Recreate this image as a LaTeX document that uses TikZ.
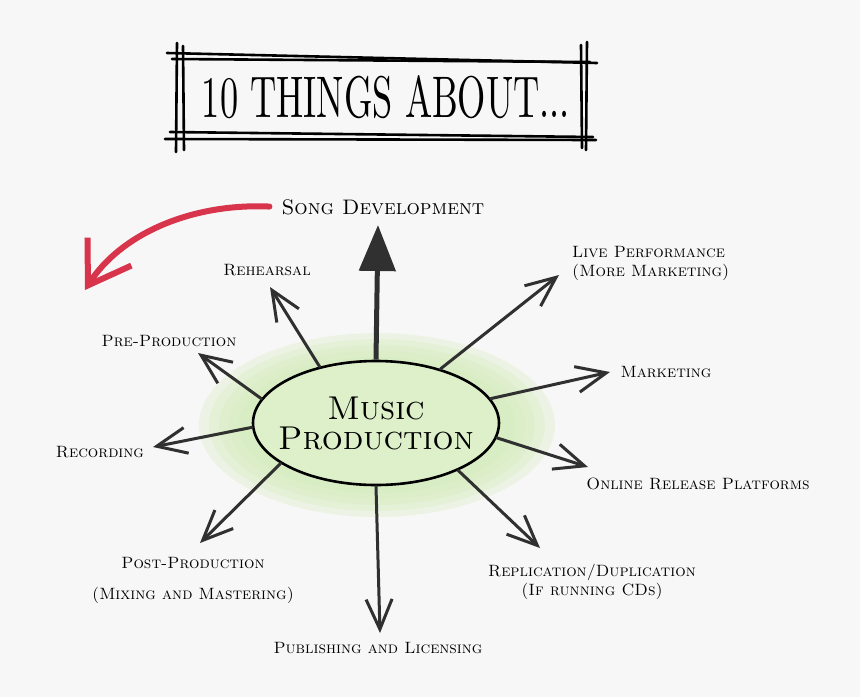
\documentclass[tikz,border=0pt]{standalone}
\usepackage{graphicx}
\usetikzlibrary{arrows.meta,shapes.geometric}
\definecolor{paper}{HTML}{F7F7F7}
\definecolor{ink}{HTML}{2F302F}
\definecolor{pen}{HTML}{D8344C}
\definecolor{leaf}{HTML}{DDF0C9}
\definecolor{haze}{HTML}{D4EDBB}
\begin{document}
\begin{tikzpicture}[x=1pt,y=-1pt,
  lbl/.style={font=\fontsize{16.4}{19}\selectfont\scshape, text=black, inner sep=2pt},
  arr/.style={draw=ink, line width=3pt, line cap=round, -{Straight Barb[length=30pt,width=26pt]}},
  frame/.style={line width=2.6pt, line cap=round}]
\fill[paper] (0,0) rectangle (860,697);
\useasboundingbox (0,0) rectangle (860,697);
\draw[frame] (167,53) -- (597,63);
\draw[frame] (172,59) -- (590,62);
\draw[frame] (170,132) -- (593,137);
\draw[frame] (165,139) -- (596,140);
\draw[frame] (177,43) -- (176,152);
\draw[frame] (183,46) -- (184,150);
\draw[frame] (581,45) -- (582,148);
\draw[frame] (587,42) -- (586,150);
\node (title) at (386,97) {\resizebox{368pt}{42pt}{10 THINGS ABOUT...}};
\foreach \a/\b in {178/92,168/86,158/80,148/74,138/68}
  \fill[haze,opacity=.3] (377,425) ellipse (\a pt and \b pt);
\node[ellipse, draw=black, line width=2.6pt, fill=leaf, minimum width=246pt, minimum height=124pt,
  align=center, font=\fontsize{33}{30}\selectfont\scshape, inner xsep=-16pt, inner ysep=0pt] (mp) at (376,423) {Music\\Production};
\node[lbl, font=\fontsize{21}{24}\selectfont\scshape] (song) at (383,207) {Song Development};
\node[lbl] (reh) at (267,270) {Rehearsal};
\node[lbl] (pre) at (169,341) {Pre-Production};
\node[lbl] (rec) at (100,452) {Recording};
\node[lbl, align=center] (post) at (193,580) {Post-Production\\[12pt](Mixing and Mastering)};
\node[lbl] (pub) at (378,648) {Publishing and Licensing};
\node[lbl, align=center] (rep) at (592,582) {Replication/Duplication\\(If running CDs)};
\node[lbl] (online) at (698,484) {Online Release Platforms};
\node[lbl] (mkt) at (666,372) {Marketing};
\node[lbl, align=left, anchor=west] (live) at (570,263) {Live Performance\\(More Marketing)};
\coordinate (t-song) at (378,225);
\coordinate (t-reh) at (270,287);
\coordinate (t-pre) at (198,353);
\coordinate (t-rec) at (153,447);
\coordinate (t-post) at (200,543);
\coordinate (t-pub) at (380,633);
\coordinate (t-rep) at (540,548);
\coordinate (t-online) at (588,467);
\coordinate (t-mkt) at (610,372);
\coordinate (t-live) at (559,275);
\coordinate (t-red) at (85,290);
\draw[ink, line width=5pt, -{Triangle[length=46pt,width=36pt]}] (mp.90) -- (t-song);
\draw[arr] (mp.135) -- (t-reh);
\draw[arr] (mp.168) -- (t-pre);
\draw[arr] (mp.182) -- (t-rec);
\draw[arr] (mp.203) -- (t-post);
\draw[arr] (mp.270) -- (t-pub);
\draw[arr] (mp.330) -- (t-rep);
\draw[arr] (mp.353) -- (t-online);
\draw[arr] (mp.12) -- (t-mkt);
\draw[arr] (mp.40) -- (t-live);
\draw[pen, line width=6pt, line cap=round, shorten <=10pt, -{Straight Barb[length=40pt,width=52pt]}]
  (song.west) .. controls (190,203) and (120,235) .. (t-red);
\end{tikzpicture}
\end{document}
